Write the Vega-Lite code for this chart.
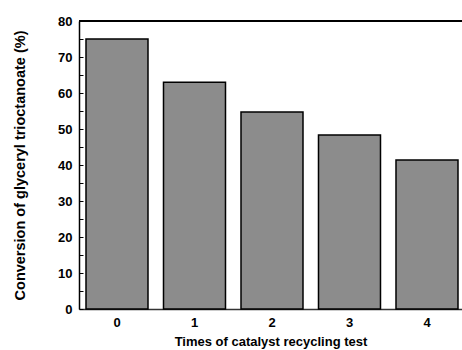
{
  "$schema": "https://vega.github.io/schema/vega-lite/v6.json",
  "autosize": "none",
  "width": 383,
  "height": 288,
  "padding": {"left": 79, "top": 21, "right": 0, "bottom": 41},
  "background": "white",
  "config": {
    "view": {"stroke": null},
    "font": "Liberation Sans",
    "axis": {"labelFont": "Liberation Sans", "titleFont": "Liberation Sans", "labelFontWeight": "bold", "titleFontWeight": "bold", "labelColor": "#000", "titleColor": "#000", "domainColor": "#000", "tickColor": "#000", "grid": false}
  },
  "data": {"values": [
    {"t": "0", "conv": 75.0},
    {"t": "1", "conv": 63.0},
    {"t": "2", "conv": 54.7},
    {"t": "3", "conv": 48.3},
    {"t": "4", "conv": 41.4}
  ]},
  "layer": [
    {
      "mark": {"type": "bar", "fill": "#8c8c8c", "stroke": "#000", "strokeWidth": 1.5},
      "encoding": {
        "x": {"field": "t", "type": "ordinal", "sort": null,
          "scale": {"paddingInner": 0.2, "paddingOuter": 0.071, "align": 0.636},
          "axis": {"title": "Times of catalyst recycling test", "labelAngle": 0, "labelFontSize": 13, "titleFontSize": 13, "ticks": false, "labelPadding": 7, "titlePadding": 6, "domainWidth": 1.5, "domainColor": "#333"}},
        "y": {"field": "conv", "type": "quantitative",
          "scale": {"domain": [0, 80], "nice": false},
          "axis": {"title": "Conversion of glyceryl trioctanoate (%)", "values": [0,5,10,15,20,25,30,35,40,45,50,55,60,65,70,75,80],
            "labelExpr": "datum.value % 10 === 0 ? datum.label : ''",
            "labelOverlap": false,
            "tickSize": -4,
            "labelFontSize": 13, "titleFontSize": 14.5, "labelPadding": 11, "titlePadding": 30, "domainWidth": 1.5, "tickWidth": 1}}
      }
    },
    {
      "mark": {"type": "rule", "color": "#000", "strokeWidth": 2},
      "encoding": {"y": {"datum": 80, "type": "quantitative",
          "axis": {"title": "Conversion of glyceryl trioctanoate (%)", "values": [0,5,10,15,20,25,30,35,40,45,50,55,60,65,70,75,80],
            "labelExpr": "datum.value % 10 === 0 ? datum.label : ''",
            "labelOverlap": false,
            "tickSize": -4,
            "labelFontSize": 13, "titleFontSize": 14.5, "labelPadding": 11, "titlePadding": 30, "domainWidth": 1.5, "tickWidth": 1}}}
    }
  ]
}
